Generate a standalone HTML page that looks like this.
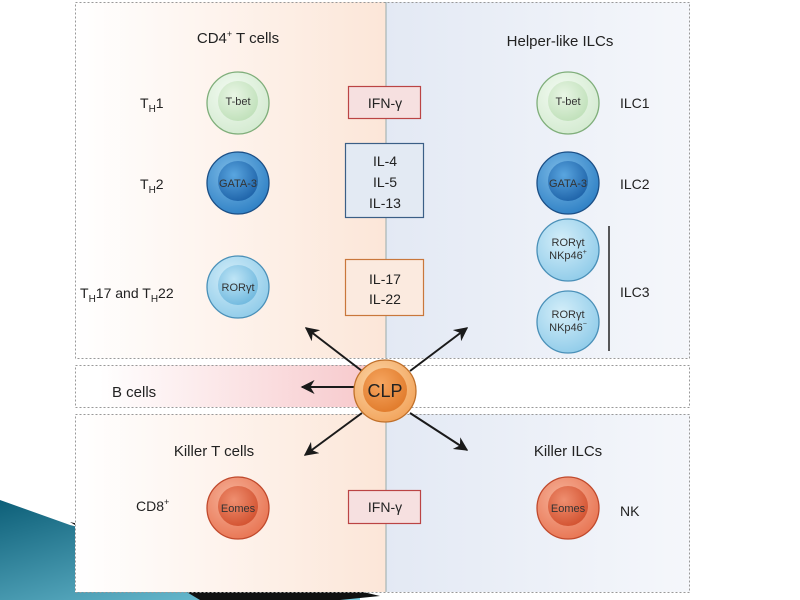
<!DOCTYPE html>
<html><head><meta charset="utf-8"><style>
html,body{margin:0;padding:0;background:#fff;width:800px;height:600px;overflow:hidden}
text{font-family:"Liberation Sans",Arial,sans-serif}
</style></head><body>
<svg width="800" height="600" viewBox="0 0 800 600" xmlns="http://www.w3.org/2000/svg">
<defs>
<linearGradient id="peach" x1="0" x2="1" y1="0" y2="0"><stop offset="0" stop-color="#fff"/><stop offset="1" stop-color="#fce6d8"/></linearGradient>
<linearGradient id="blue" x1="0" x2="1" y1="0" y2="0"><stop offset="0" stop-color="#e3e9f4"/><stop offset="1" stop-color="#f5f7fb"/></linearGradient>
<linearGradient id="pink" x1="0" x2="1" y1="0" y2="0"><stop offset="0" stop-color="#fff"/><stop offset="1" stop-color="#f7c9cc"/></linearGradient>
<linearGradient id="teal" x1="0" x2="1" y1="0" y2="1"><stop offset="0" stop-color="#0d5f78"/><stop offset="1" stop-color="#7fd0e4"/></linearGradient>
<radialGradient id="gO" cx=".4" cy=".35" r=".7"><stop offset="0" stop-color="#f3fbf2"/><stop offset="1" stop-color="#d3ead0"/></radialGradient>
<radialGradient id="gI" cx=".4" cy=".35" r=".7"><stop offset="0" stop-color="#e8f5e4"/><stop offset="1" stop-color="#bfe0b9"/></radialGradient>
<radialGradient id="bO" cx=".4" cy=".35" r=".7"><stop offset="0" stop-color="#7fbde8"/><stop offset="1" stop-color="#2d7fc4"/></radialGradient>
<radialGradient id="bI" cx=".4" cy=".35" r=".7"><stop offset="0" stop-color="#5aa6e0"/><stop offset="1" stop-color="#1d62a8"/></radialGradient>
<radialGradient id="cO" cx=".4" cy=".35" r=".7"><stop offset="0" stop-color="#d4eef9"/><stop offset="1" stop-color="#8fcbe9"/></radialGradient>
<radialGradient id="cI" cx=".4" cy=".35" r=".7"><stop offset="0" stop-color="#bfe5f6"/><stop offset="1" stop-color="#6fb8de"/></radialGradient>
<radialGradient id="rO" cx=".4" cy=".35" r=".7"><stop offset="0" stop-color="#f6b39a"/><stop offset="1" stop-color="#e87452"/></radialGradient>
<radialGradient id="rI" cx=".4" cy=".35" r=".7"><stop offset="0" stop-color="#ef8f70"/><stop offset="1" stop-color="#d2512f"/></radialGradient>
<radialGradient id="oO" cx=".4" cy=".35" r=".7"><stop offset="0" stop-color="#fbd6a8"/><stop offset="1" stop-color="#f2a35a"/></radialGradient>
<radialGradient id="oI" cx=".4" cy=".35" r=".7"><stop offset="0" stop-color="#f6a660"/><stop offset="1" stop-color="#e07a2a"/></radialGradient>
<marker id="ah" viewBox="0 0 10 10" refX="9" refY="5" markerWidth="7" markerHeight="7" orient="auto"><path d="M0,0 L10,5 L0,10 L3,5 z" fill="#1a1a1a"/></marker>
</defs>
<polygon points="0,500 70,525 360,596 360,600 0,600" fill="url(#teal)"/>
<polygon points="70,522 380,596 340,600 200,600" fill="#111"/>
<rect x="75" y="2" width="311" height="356" fill="url(#peach)"/>
<rect x="386" y="2" width="304" height="356" fill="url(#blue)"/>
<rect x="75" y="414" width="311" height="178" fill="url(#peach)"/>
<rect x="386" y="414" width="304" height="178" fill="url(#blue)"/>
<rect x="75" y="365" width="615" height="42" fill="#fff"/>
<rect x="100" y="365" width="270" height="42" fill="url(#pink)"/>
<line x1="386" y1="2" x2="386" y2="358" stroke="#9aa" stroke-width="1"/>
<line x1="386" y1="414" x2="386" y2="592" stroke="#9aa" stroke-width="1"/>
<g fill="none" stroke="#999" stroke-dasharray="2,2" stroke-width="1">
<rect x="75.5" y="2.5" width="614" height="356"/>
<rect x="75.5" y="365.5" width="614" height="42"/>
<rect x="75.5" y="414.5" width="614" height="178"/>
</g>
<g font-size="15" fill="#222" text-anchor="middle">
<text x="238" y="43">CD4<tspan font-size="9" dy="-6">+</tspan><tspan dy="6"> T cells</tspan></text>
<text x="560" y="46">Helper-like ILCs</text>
<text x="214" y="456">Killer T cells</text>
<text x="568" y="456">Killer ILCs</text>
</g>
<g font-size="14" fill="#222">
<text x="140" y="108">T<tspan font-size="10" dy="4">H</tspan><tspan dy="-4">1</tspan></text>
<text x="140" y="189">T<tspan font-size="10" dy="4">H</tspan><tspan dy="-4">2</tspan></text>
<text x="80" y="298">T<tspan font-size="10" dy="4">H</tspan><tspan dy="-4">17 and T</tspan><tspan font-size="10" dy="4">H</tspan><tspan dy="-4">22</tspan></text>
<text x="136" y="511">CD8<tspan font-size="9" dy="-6">+</tspan></text>
<text x="620" y="108">ILC1</text>
<text x="620" y="189">ILC2</text>
<text x="620" y="297">ILC3</text>
<text x="620" y="516">NK</text>
<text x="112" y="397" font-size="15">B cells</text>
</g>
<line x1="609" y1="226" x2="609" y2="351" stroke="#222" stroke-width="1.5"/>
<g font-size="11" fill="#333" text-anchor="middle">
<circle cx="238" cy="103" r="31" fill="url(#gO)" stroke="#7fae7a" stroke-width="1.3"/><circle cx="238" cy="101" r="20" fill="url(#gI)"/><text x="238" y="105">T-bet</text>
<circle cx="238" cy="183" r="31" fill="url(#bO)" stroke="#1b4f86" stroke-width="1.3"/><circle cx="238" cy="181" r="20" fill="url(#bI)"/><text x="238" y="187">GATA-3</text>
<circle cx="238" cy="287" r="31" fill="url(#cO)" stroke="#4a90b8" stroke-width="1.3"/><circle cx="238" cy="285" r="20" fill="url(#cI)"/><text x="238" y="291">RORγt</text>
<circle cx="238" cy="508" r="31" fill="url(#rO)" stroke="#c0492c" stroke-width="1.3"/><circle cx="238" cy="506" r="20" fill="url(#rI)"/><text x="238" y="512">Eomes</text>
<circle cx="568" cy="103" r="31" fill="url(#gO)" stroke="#7fae7a" stroke-width="1.3"/><circle cx="568" cy="101" r="20" fill="url(#gI)"/><text x="568" y="105">T-bet</text>
<circle cx="568" cy="183" r="31" fill="url(#bO)" stroke="#1b4f86" stroke-width="1.3"/><circle cx="568" cy="181" r="20" fill="url(#bI)"/><text x="568" y="187">GATA-3</text>
<circle cx="568" cy="250" r="31" fill="url(#cO)" stroke="#4a90b8" stroke-width="1.3"/><text x="568" y="246">RORγt</text><text x="568" y="259">NKp46<tspan font-size="7" dy="-5">+</tspan></text>
<circle cx="568" cy="322" r="31" fill="url(#cO)" stroke="#4a90b8" stroke-width="1.3"/><text x="568" y="318">RORγt</text><text x="568" y="331">NKp46<tspan font-size="7" dy="-5">−</tspan></text>
<circle cx="568" cy="508" r="31" fill="url(#rO)" stroke="#c0492c" stroke-width="1.3"/><circle cx="568" cy="506" r="20" fill="url(#rI)"/><text x="568" y="512">Eomes</text>
</g>
<g font-size="14" fill="#222" text-anchor="middle">
<rect x="348.5" y="86.5" width="72" height="32" fill="#f6e0e0" stroke="#b44" stroke-width="1.2"/><text x="385" y="108">IFN-γ</text>
<rect x="345.5" y="143.5" width="78" height="74" fill="#e3eaf3" stroke="#3b5f86" stroke-width="1.2"/><text x="385" y="166">IL-4</text><text x="385" y="187">IL-5</text><text x="385" y="208">IL-13</text>
<rect x="345.5" y="259.5" width="78" height="56" fill="#fbeadf" stroke="#c9773b" stroke-width="1.2"/><text x="385" y="284">IL-17</text><text x="385" y="304">IL-22</text>
<rect x="348.5" y="490.5" width="72" height="33" fill="#f6e0e0" stroke="#b44" stroke-width="1.2"/><text x="385" y="512">IFN-γ</text>
</g>
<g stroke="#1a1a1a" stroke-width="2" marker-end="url(#ah)">
<line x1="362" y1="371" x2="306" y2="328"/>
<line x1="410" y1="371" x2="467" y2="328"/>
<line x1="354" y1="387" x2="302" y2="387"/>
<line x1="362" y1="413" x2="305" y2="455"/>
<line x1="410" y1="413" x2="467" y2="450"/>
</g>
<circle cx="385" cy="391" r="31" fill="url(#oO)" stroke="#c0702a" stroke-width="1.3"/>
<circle cx="385" cy="390" r="22" fill="url(#oI)"/>
<text x="385" y="397" font-size="18" fill="#222" text-anchor="middle">CLP</text>
</svg>
</body></html>
